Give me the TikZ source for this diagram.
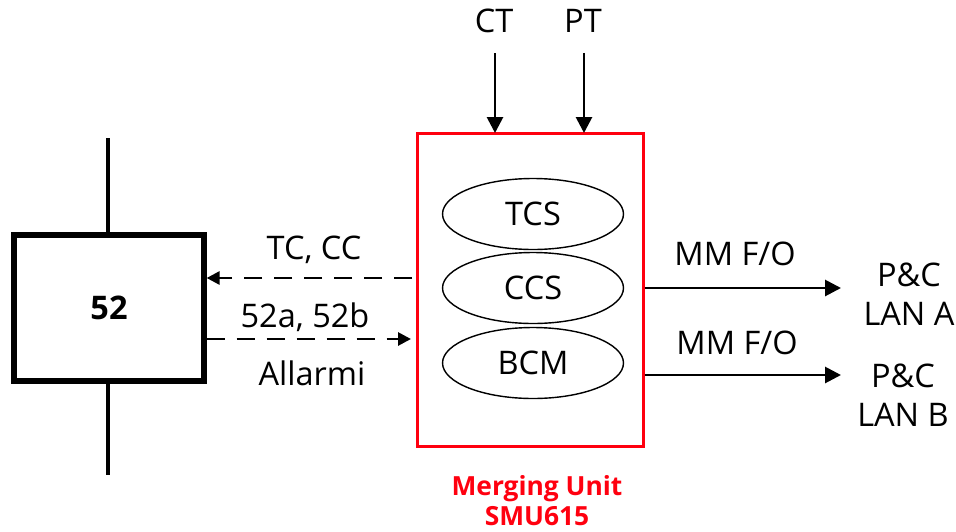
\documentclass[tikz,border=0pt]{standalone}
\usepackage{fontspec}
\setmainfont{Open Sans}
\usepackage{xcolor}
\usetikzlibrary{arrows.meta,positioning,shapes.geometric,calc}

\definecolor{abbred}{RGB}{255,0,15}

\begin{document}
\begin{tikzpicture}[
  x=0.02cm, y=-0.02cm,
  every node/.style={font=\fontsize{18.5}{22.5}\selectfont, inner sep=0pt},
  brk/.style={draw=black, line width=3pt, minimum width=3.8cm, minimum height=2.92cm},
  unit/.style={draw=abbred, line width=1.3pt, minimum width=4.52cm, minimum height=6.26cm},
  fn/.style={ellipse, draw=black, line width=0.8pt, minimum width=3.62cm, minimum height=1.42cm},
  lbl/.style={align=center},
  feed/.style={line width=2.3pt},
  arr/.style={-{Triangle[length=3.2mm, width=3.2mm]}, line width=1.6pt},
  sig/.style={-{Triangle[length=2.6mm, width=2.6mm]}, line width=1.6pt, dash pattern=on 3.6mm off 2.4mm}
]
\useasboundingbox (0,0) rectangle (956,531);

% breaker
\node[brk] (cb) at (109,308) {\textbf{52}};
\coordinate (bustop) at (108,138);
\coordinate (busbot) at (108,475);
\draw[feed] (bustop) -- (cb.north -| bustop);
\draw[feed] (cb.south -| busbot) -- (busbot);

% merging unit
\node[unit] (mu) at (530.5,290) {};
\node[fn] (tcs) at (533,214) {TCS};
\node[fn] (ccs) at (533,288) {CCS};
\node[fn] (bcm) at (533,363) {BCM};
\node[lbl, text=abbred, font=\fontsize{15}{17}\selectfont\bfseries] (name) at (537,501) {Merging Unit\\SMU615};

% CT / PT inputs
\node (ct) at (494,21) {CT};
\node (pt) at (583,21) {PT};
\coordinate (ctin) at (495,133);
\coordinate (ptin) at (584,133);
\draw[arr] (ct.south -| ctin) ++(0,20) -- (ctin);
\draw[arr] (pt.south -| ptin) ++(0,20) -- (ptin);

% signals to/from breaker
\coordinate (cmd) at (412,278);
\coordinate (sts) at (411,339);
\draw[sig] (cmd) -- (cb.east |- cmd);
\draw[sig] (cb.east |- sts) -- (sts);
\node (tccc) at (314,250) {TC, CC};
\node (aux) at (305,317) {52a, 52b};
\node (alm) at (312,373) {Allarmi};

% LAN outputs
\node[lbl] (lana) at (909,294) {P\&C\\LAN A};
\node[lbl] (lanb) at (903,395) {P\&C\\LAN B};
\coordinate (outa) at (841,288);
\coordinate (outb) at (841,375);
\draw[arr] (mu.east |- outa) -- (outa);
\draw[arr] (mu.east |- outb) -- (outb);
\node (moa) at (735,254) {MM F/O};
\node (mob) at (737,343) {MM F/O};
\end{tikzpicture}
\end{document}
